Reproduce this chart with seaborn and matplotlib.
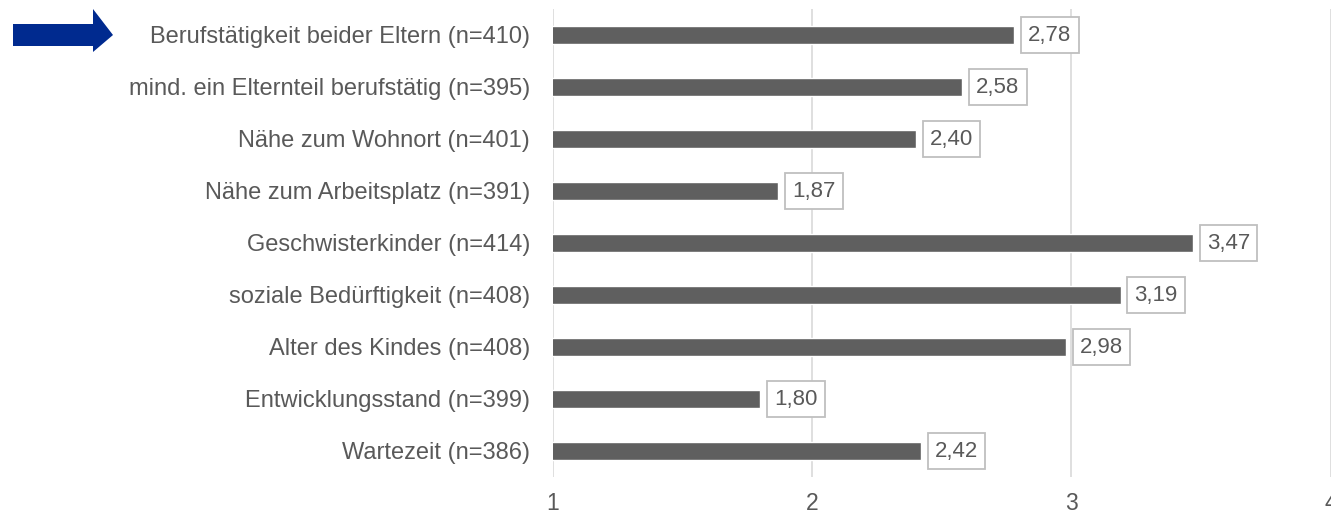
import matplotlib
matplotlib.use("Agg")
import matplotlib.pyplot as plt
from matplotlib.patches import Polygon
import seaborn as sns
import pandas as pd

categories = [
    "Berufstätigkeit beider Eltern (n=410)",
    "mind. ein Elternteil berufstätig (n=395)",
    "Nähe zum Wohnort (n=401)",
    "Nähe zum Arbeitsplatz (n=391)",
    "Geschwisterkinder (n=414)",
    "soziale Bedürftigkeit (n=408)",
    "Alter des Kindes (n=408)",
    "Entwicklungsstand (n=399)",
    "Wartezeit (n=386)",
]
values = [2.78, 2.58, 2.40, 1.87, 3.47, 3.19, 2.98, 1.80, 2.42]
x_ticks = [1, 2, 3, 4]

df = pd.DataFrame({"Kriterium": categories, "Mittelwert": values})

sns.set_theme(style="white")
plt.rcParams["font.family"] = ["Liberation Sans", "DejaVu Sans"]

TEXT = "#595959"
BAR = "#5f5f5f"
GRID = "#d9d9d9"

W, H = 1331, 515
fig = plt.figure(figsize=(W / 100, H / 100), dpi=100)
ax = fig.add_axes([553 / W, 1 - 477 / H, (1330.5 - 553) / W, (477 - 9) / H])

sns.barplot(data=df, x="Mittelwert", y="Kriterium", orient="h",
            color=BAR, saturation=1, width=0.35, ax=ax)

ax.set_xlim(1, 4)
ax.set_ylim(len(categories) - 0.5, -0.5)
ax.set_xticks(x_ticks)
ax.set_xticklabels([str(t) for t in x_ticks])
ax.grid(axis="x", color=GRID, linewidth=1.2)
ax.set_axisbelow(True)
for s in ax.spines.values():
    s.set_visible(False)
ax.tick_params(axis="both", length=0, colors=TEXT)
ax.tick_params(axis="y", pad=16.5, labelsize=17)
ax.tick_params(axis="x", pad=11, labelsize=16.5)
ax.set_xlabel("")
ax.set_ylabel("")
for lbl in ax.get_yticklabels() + ax.get_xticklabels():
    lbl.set_color(TEXT)

# value boxes next to each bar end
for i, v in enumerate(values):
    ax.annotate(f"{v:.2f}".replace(".", ","), xy=(v, i),
                xytext=(10, 0), textcoords="offset points",
                ha="left", va="center", fontsize=16, color=TEXT,
                clip_on=False,
                bbox=dict(boxstyle="square,pad=0.32", fc="white",
                          ec="#bfbfbf", lw=1.3))

# arrow highlighting the first criterion
pts = [(13, 24), (93, 24), (93, 9), (113, 35), (93, 52), (93, 46), (13, 46)]
arrow = Polygon([(x / W, 1 - y / H) for x, y in pts], closed=True,
                transform=fig.transFigure, fc="#002A8F", ec="none")
fig.patches.append(arrow)

fig.savefig("out.png", dpi=100)
